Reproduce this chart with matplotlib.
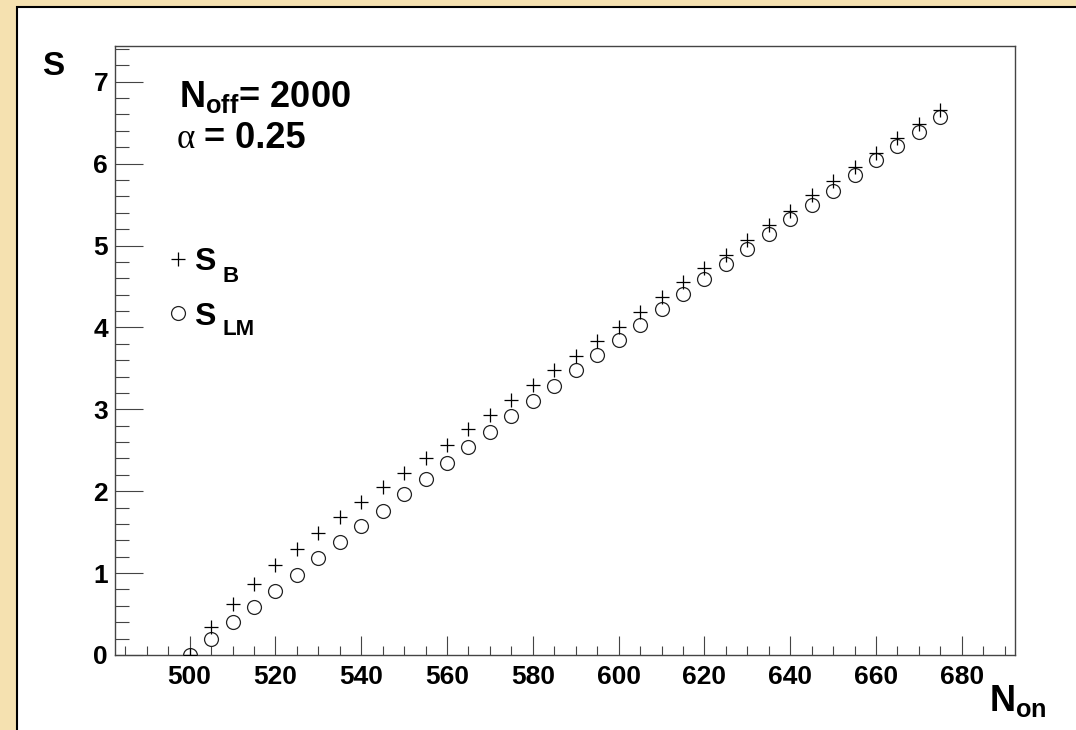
import matplotlib
matplotlib.use("Agg")
import matplotlib.pyplot as plt
from matplotlib.patches import Rectangle
from matplotlib.lines import Line2D
from matplotlib.ticker import MultipleLocator

# Significance versus number of ON counts (N_off = 2000, alpha = 0.25)
n_on = [500, 505, 510, 515, 520, 525, 530, 535, 540, 545, 550, 555,
        560, 565, 570, 575, 580, 585, 590, 595, 600, 605, 610, 615,
        620, 625, 630, 635, 640, 645, 650, 655, 660, 665, 670, 675]
s_b = [0.00, 0.345, 0.62, 0.867, 1.095, 1.30, 1.49, 1.68, 1.87, 2.055, 2.22, 2.41,
       2.57, 2.76, 2.935, 3.11, 3.30, 3.48, 3.65, 3.84, 4.01, 4.185, 4.37, 4.55,
       4.72, 4.89, 5.07, 5.25, 5.42, 5.62, 5.79, 5.96, 6.13, 6.31, 6.48, 6.66]
s_lm = [0.00, 0.20, 0.40, 0.59, 0.785, 0.98, 1.18, 1.376, 1.57, 1.76, 1.96, 2.15,
        2.34, 2.54, 2.725, 2.92, 3.10, 3.29, 3.48, 3.66, 3.85, 4.035, 4.22, 4.41,
        4.59, 4.77, 4.96, 5.14, 5.32, 5.49, 5.67, 5.86, 6.04, 6.21, 6.39, 6.57]

W, H = 1076, 730
plt.rcParams["mathtext.fontset"] = "custom"
plt.rcParams["mathtext.bf"] = "Liberation Sans:bold"
plt.rcParams["mathtext.rm"] = "Liberation Sans:bold"
plt.rcParams["mathtext.it"] = "Liberation Sans:bold"
SANS = dict(family="Liberation Sans", weight="bold")


def fx(px):
    return px / W


def fy(py):
    return 1 - py / H


fig = plt.figure(figsize=(W / 100, H / 100), dpi=100)
fig.patch.set_facecolor("#F5E1B0")
fig.add_artist(Rectangle((fx(16.7), -0.1), 1.2, fy(6.5) + 0.1,
                         transform=fig.transFigure, facecolor="white",
                         edgecolor="black", linewidth=1.5, zorder=0))

ax = fig.add_axes([fx(115), fy(655), fx(1015) - fx(115), fy(46) - fy(655)])
ax.set_facecolor("white")
ax.set_zorder(1)

ax.plot(n_on, s_b, linestyle="none", marker="+", markersize=9.5,
        markeredgewidth=0.9, color="black", zorder=3)
ax.plot(n_on, s_lm, linestyle="none", marker="o", markersize=10,
        markerfacecolor="none", markeredgewidth=0.9,
        markeredgecolor="#222222", zorder=2)

ax.set_xlim(482.6, 692.4)
ax.set_ylim(0, 7.436)

ax.xaxis.set_major_locator(MultipleLocator(20))
ax.xaxis.set_minor_locator(MultipleLocator(5))
ax.yaxis.set_major_locator(MultipleLocator(1))
ax.yaxis.set_minor_locator(MultipleLocator(0.2))

axis_col = "#444444"
for sp in ax.spines.values():
    sp.set_color(axis_col)
    sp.set_linewidth(1.0)

ax.tick_params(axis="both", which="both", direction="in", color=axis_col,
               width=0.8, top=False, right=False)
ax.tick_params(axis="x", which="major", length=13.7, pad=7)
ax.tick_params(axis="x", which="minor", length=6.7)
ax.tick_params(axis="y", which="major", length=20, pad=5)
ax.tick_params(axis="y", which="minor", length=10)

ax.set_xticks([500, 520, 540, 560, 580, 600, 620, 640, 660, 680])
for lab in ax.get_xticklabels() + ax.get_yticklabels():
    lab.set_fontfamily("Liberation Sans")
    lab.set_fontweight("bold")
    lab.set_fontsize(19)

# axis titles
fig.text(fx(42), fy(75), "S", fontsize=24, ha="left", va="baseline", **SANS)
fig.text(fx(989), fy(711), r"$\mathbf{N}_{\mathbf{on}}$", fontsize=26,
         ha="left", va="baseline")

# parameter annotation
fig.text(fx(179), fy(107), r"$\mathbf{N}_{\mathbf{off}}$= 2000", fontsize=26,
         ha="left", va="baseline", **SANS)
fig.text(fx(177), fy(148), "\u03b1", fontsize=25, family="Liberation Serif",
         ha="left", va="baseline")
fig.text(fx(204), fy(148), "= 0.25", fontsize=26, ha="left", va="baseline", **SANS)

# legend
fig.add_artist(Line2D([fx(178)], [fy(259)], marker="+", markersize=9.5,
                      markeredgewidth=0.9, color="black",
                      transform=fig.transFigure))
fig.add_artist(Line2D([fx(178)], [fy(313)], marker="o", markersize=10,
                      markerfacecolor="none", markeredgewidth=0.9,
                      markeredgecolor="#222222", transform=fig.transFigure))
fig.text(fx(194), fy(270), "S", fontsize=23, ha="left", va="baseline", **SANS)
fig.text(fx(222), fy(282), "B", fontsize=16, ha="left", va="baseline", **SANS)
fig.text(fx(194), fy(325), "S", fontsize=23, ha="left", va="baseline", **SANS)
fig.text(fx(222), fy(335), "LM", fontsize=16, ha="left", va="baseline", **SANS)

fig.savefig("out.png", dpi=100, facecolor=fig.get_facecolor())
